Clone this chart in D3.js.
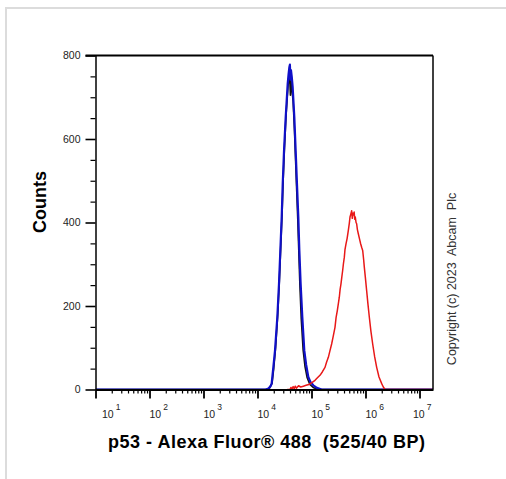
<!DOCTYPE html>
<html><head><meta charset="utf-8">
<script src="https://cdn.jsdelivr.net/npm/d3@7"></script>
<style>html,body{margin:0;padding:0;background:#fff;} svg{display:block;}</style>
</head><body>
<svg id="chart" width="506" height="479"></svg>
<script>
// ---- data (x values are log10 of fluorescence intensity) ----
const decadeExponents = [1, 2, 3, 4, 5, 6, 7];
const countTicks = [0, 200, 400, 600, 800];
const countMinorTicks = [50, 100, 150, 250, 300, 350, 450, 500, 550, 650, 700, 750];

const blackLog =   [1.0, 4.17, 4.22, 4.27, 4.30, 4.335, 4.375, 4.405, 4.43, 4.455, 4.475, 4.50, 4.53, 4.565, 4.58, 4.593, 4.60, 4.61, 4.62, 4.64, 4.66, 4.685, 4.705, 4.725, 4.745, 4.765, 4.785, 4.81, 4.845, 4.88, 4.92, 4.97, 5.03, 5.12, 7.25];
const blackCount = [0,   0,    3,    15,   50,   100,   180,   260,   340,  420,   500,   580,  660,  725,   748,  752,   735,  705,  740,  715,  690,  620,   550,   480,   410,   330,   250,   170,  95,    55,   28,   12,   5,    0,    0];

const blueLog =   [1.0, 4.15, 4.20, 4.24, 4.262, 4.293, 4.324, 4.367, 4.398, 4.423, 4.448, 4.467, 4.491, 4.522, 4.559, 4.575, 4.59, 4.60, 4.61, 4.62, 4.635, 4.651, 4.682, 4.707, 4.731, 4.756, 4.775, 4.799, 4.830, 4.867, 4.90, 4.941, 4.98, 5.033, 5.10, 5.188, 7.25];
const blueCount = [0,   0,    2,    8,    14,    53,    93,    173,   253,   333,   413,   493,   572,   652,   732,   755,   772,  778,  742,  765,  748,   725,   652,   572,   493,   413,   333,   253,   173,   93,    60,   30,    18,   10,    4,    0,     0];

const redLog =   [4.55, 4.602, 4.62, 4.64, 4.66, 4.68, 4.70, 4.72, 4.76, 4.80, 4.85, 4.90, 4.95, 5.00, 5.065, 5.11, 5.157, 5.20, 5.25, 5.28, 5.312, 5.34, 5.373, 5.40, 5.435, 5.455, 5.478, 5.50, 5.515, 5.53, 5.546, 5.56, 5.577, 5.59, 5.608, 5.62, 5.639, 5.66, 5.682, 5.70, 5.713, 5.728, 5.744, 5.755, 5.765, 5.778, 5.79, 5.80, 5.811, 5.825, 5.836, 5.85, 5.867, 5.89, 5.91, 5.93, 5.948, 5.965, 5.978, 6.00, 6.021, 6.045, 6.071, 6.10, 6.133, 6.17, 6.207, 6.25, 6.30, 6.33, 6.361, 7.25];
const redCount = [0,    0,     5,    1,    7,    2,    8,    3,    9,    6,    8,    10,   12,   16,   22,    28,   34,    42,   53,   66,   77,    92,   109,   126,  149,   172,   189,   208,  221,   240,  253,   268,  285,   300,  317,   335,  349,   362,  381,   398,  413,   420,   428,   410,   422,   418,   425,  408,  413,   400,   397,   383,  373,   360,  349,  340,  333,   312,   293,   265,  237,   205,   173,   140,  109,   78,   53,    30,   14,   6,    0,     0];

const xTitle = "p53 - Alexa Fluor\u00AE 488  (525/40 BP)";
const yTitle = "Counts";
const copyright = "Copyright (c) 2023  Abcam  Plc";

// ---- layout ----
const L = 95.5, R = 433, T = 55.5, B = 389.5;
const svg = d3.select("#chart");
const font = "'Liberation Sans', Arial, sans-serif";

// outer light border
svg.append("rect").attr("x", 6).attr("y", 8).attr("width", 620).attr("height", 620)
  .attr("fill", "none").attr("stroke", "#dcdcdc").attr("stroke-width", 2);

const x = d3.scaleLog().domain([10, Math.pow(10, 7.25)]).range([L, R]);
const y = d3.scaleLinear().domain([0, 800]).range([B, T]);

// clip
svg.append("clipPath").attr("id", "clip").append("rect")
  .attr("x", L).attr("y", T - 2).attr("width", R - L).attr("height", B - T + 3);

// histograms
const line = d3.line().x(d => x(Math.pow(10, d[0]))).y(d => y(d[1]));
const series = [
  {lx: blackLog, cy: blackCount, color: "#111111", w: 1.6},
  {lx: blueLog, cy: blueCount, color: "#1010c8", w: 2.2},
  {lx: redLog, cy: redCount, color: "#e81818", w: 1.5}
];
const g = svg.append("g").attr("clip-path", "url(#clip)");
series.forEach(s => {
  g.append("path").datum(s.lx.map((v, i) => [v, s.cy[i]]))
    .attr("d", line).attr("fill", "none").attr("stroke", s.color)
    .attr("stroke-width", s.w).attr("stroke-linejoin", "round");
});

// y axis
const yMinor = svg.append("g").attr("transform", `translate(${L},0)`)
  .call(d3.axisLeft(y).tickValues(countMinorTicks).tickSize(5).tickSizeOuter(0).tickFormat(""));
yMinor.select(".domain").remove();
const yAx = svg.append("g").attr("transform", `translate(${L},0)`)
  .call(d3.axisLeft(y).tickValues(countTicks).tickSize(10).tickSizeOuter(0).tickPadding(5).tickFormat(d3.format("d")));
yAx.select(".domain").attr("stroke-width", 1.5);
yAx.selectAll(".tick line").attr("stroke-width", 1.6);
yMinor.selectAll(".tick line").attr("stroke-width", 1.2);
yAx.selectAll("text").attr("font-family", font).attr("font-size", 10.5).attr("fill", "#222");

// x axis
const minorVals = [];
decadeExponents.forEach(e => { for (let m = 2; m <= 9; m++) { const v = m * Math.pow(10, e); if (v < Math.pow(10, 7.25)) minorVals.push(v); } });
const xMinor = svg.append("g").attr("transform", `translate(0,${B})`)
  .call(d3.axisBottom(x).tickValues(minorVals).tickSize(4).tickSizeOuter(0).tickFormat(""));
xMinor.select(".domain").remove();
xMinor.selectAll(".tick line").attr("stroke-width", 1.2);
const majors = decadeExponents.map(e => Math.pow(10, e));
const xAx = svg.append("g").attr("transform", `translate(0,${B})`)
  .call(d3.axisBottom(x).tickValues(majors).tickSize(9).tickSizeOuter(0).tickFormat(""));
xAx.select(".domain").attr("stroke-width", 2);
xAx.selectAll(".tick line").attr("stroke-width", 1.8);

// x tick labels: 10 with superscript exponent
decadeExponents.forEach((e, i) => {
  let px = x(Math.pow(10, e));
  if (i === 0) px += 6.5;
  if (i === decadeExponents.length - 1) px -= 6.5;
  const t = svg.append("text").attr("x", px).attr("y", 418)
    .attr("font-family", font).attr("font-size", 10.5).attr("fill", "#222");
  t.append("tspan").text("10");
  t.append("tspan").attr("dx", 2).attr("dy", -8).attr("font-size", 8.5).text(e);
});

// frame top and right
svg.append("line").attr("x1", L - 10).attr("x2", R).attr("y1", T).attr("y2", T)
  .attr("stroke", "#000").attr("stroke-width", 2);
svg.append("line").attr("x1", R).attr("x2", R).attr("y1", T).attr("y2", B)
  .attr("stroke", "#000").attr("stroke-width", 1.5);

// titles
svg.append("text").attr("x", 266.5).attr("y", 448).attr("text-anchor", "middle")
  .attr("font-family", font).attr("font-weight", "bold").attr("font-size", 18)
  .attr("textLength", 317).attr("lengthAdjust", "spacing")
  .style("white-space", "pre").attr("fill", "#000").text(xTitle);
svg.append("text").attr("transform", "translate(45.5,202) rotate(-90)").attr("text-anchor", "middle")
  .attr("font-family", font).attr("font-weight", "bold").attr("font-size", 18)
  .attr("fill", "#000").text(yTitle);
svg.append("text").attr("transform", "translate(455.5,279) rotate(-90)").attr("text-anchor", "middle")
  .attr("font-family", font).attr("font-size", 12.5).attr("fill", "#333")
  .style("white-space", "pre").text(copyright);
</script>
</body></html>
